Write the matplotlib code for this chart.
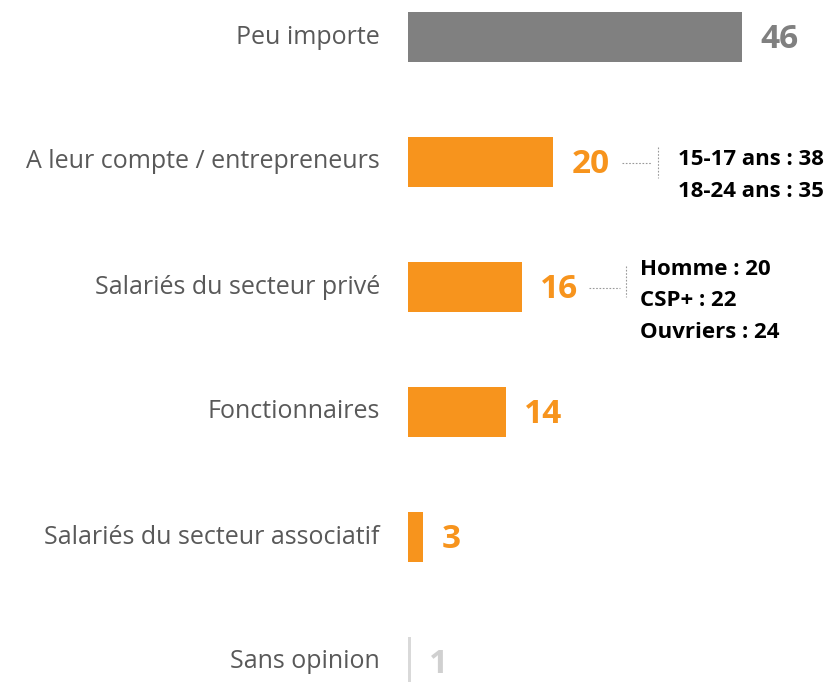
import matplotlib.pyplot as plt

plt.rcParams['font.family'] = ['Open Sans', 'DejaVu Sans']

categories = ["Peu importe", "A leur compte / entrepreneurs", "Salariés du secteur privé",
              "Fonctionnaires", "Salariés du secteur associatif", "Sans opinion"]
values = [46, 20, 16, 14, 3, 1]
# bar lengths as drawn (unrounded shares)
lengths = [46, 20, 15.7, 13.5, 2.1, 0.4]
bar_colors = ["#808080", "#F7941D", "#F7941D", "#F7941D", "#F7941D", "#D9D9D9"]
label_colors = ["#808080", "#F7941D", "#F7941D", "#F7941D", "#F7941D", "#D0D0D0"]

notes_entrepreneurs = ["15-17 ans : 38", "18-24 ans : 35"]
notes_prive = ["Homme : 20", "CSP+ : 22", "Ouvriers : 24"]

px = 334 / 46  # pixels per unit
fig = plt.figure(figsize=(8.37, 6.82), dpi=100)
ax = fig.add_axes([0, 0, 1, 1])
ax.set_xlim(-408 / px, (837 - 408) / px)
ax.set_ylim((682 - 37) / 125, -37 / 125)
ax.axis('off')

y = list(range(len(categories)))
ax.barh(y, lengths, height=0.4, color=bar_colors, left=0)

for i, (cat, v, ln, c) in enumerate(zip(categories, values, lengths, label_colors)):
    ax.text(-28 / px, i, cat, ha='right', va='center', fontsize=18, color='#595959')
    ax.text(ln + 18 / px, i + 0.02, str(v), ha='left', va='center', fontsize=24,
            fontweight='bold', color=c)

# callout for entrepreneurs
dot = dict(color='#999999', lw=0.8, ls=(0, (1.5, 1.5)))
ax.plot([(622 - 408) / px, (652 - 408) / px], [1.01, 1.01], **dot)
ax.plot([(658 - 408) / px] * 2, [0.88, 1.13], **dot)
for k, t in enumerate(notes_entrepreneurs):
    ax.text((678 - 408) / px, 0.98 + k * 0.255, t, ha='left', va='center',
            fontsize=16, fontweight='bold', color='black')

# callout for secteur privé
ax.plot([(589 - 408) / px, (620 - 408) / px], [2.01, 2.01], **dot)
ax.plot([(626 - 408) / px] * 2, [1.83, 2.08], **dot)
for k, t in enumerate(notes_prive):
    ax.text((640 - 408) / px, 1.86 + k * 0.25, t, ha='left', va='center',
            fontsize=16, fontweight='bold', color='black')

fig.savefig('out.png', dpi=100)
